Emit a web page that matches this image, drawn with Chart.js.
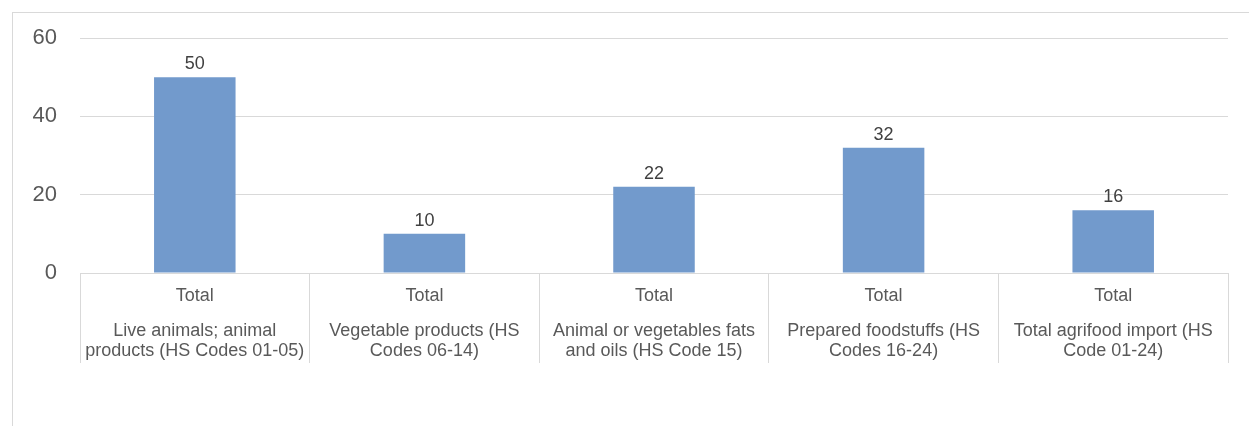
<!DOCTYPE html>
<html lang="en">
<head>
  <meta charset="UTF-8">
  <title>Agrifood import by HS section</title>
  <script src="https://cdn.jsdelivr.net/npm/chart.js"></script>
  <style>
    html, body { margin: 0; padding: 0; background: #fff; overflow: hidden; }
    #frame {
      position: absolute; left: 12px; top: 12px; width: 1300px; height: 500px;
      border-left: 1px solid #d9d9d9; border-top: 1px solid #d9d9d9;
    }
    #chart { position: absolute; left: 0; top: 0; }
  </style>
</head>
<body>
<div id="frame"></div>
<canvas id="chart" width="1249" height="426"></canvas>

<script>
  // categories (two label rows under each bar)
  const subLabels = ['Total', 'Total', 'Total', 'Total', 'Total'];
  const groupLabels = [
    ['Live animals; animal', 'products (HS Codes 01-05)'],
    ['Vegetable products (HS', 'Codes 06-14)'],
    ['Animal or vegetables fats', 'and oils (HS Code 15)'],
    ['Prepared foodstuffs (HS', 'Codes 16-24)'],
    ['Total agrifood import (HS', 'Code 01-24)']
  ];
  const values = [50, 10, 22, 32, 16];
  const yTicks = [0, 20, 40, 60];

  const FONT = '"Liberation Sans", Arial, sans-serif';
  const GRID = '#d9d9d9';
  const TEXT = '#595959';

  // value above each bar
  const valueLabels = {
    id: 'valueLabels',
    afterDatasetsDraw(chart) {
      const ctx = chart.ctx;
      const meta = chart.getDatasetMeta(0);
      ctx.save();
      ctx.font = '18px ' + FONT;
      ctx.fillStyle = '#404040';
      ctx.textAlign = 'center';
      ctx.textBaseline = 'alphabetic';
      meta.data.forEach((bar, i) => {
        ctx.fillText(String(values[i]), bar.x, bar.y - 8);
      });
      ctx.restore();
    }
  };

  // two-level category labels below the axis
  const categoryLabels = {
    id: 'categoryLabels',
    afterDraw(chart) {
      const ctx = chart.ctx;
      const x = chart.scales.x;
      ctx.save();
      ctx.font = '18px ' + FONT;
      ctx.fillStyle = TEXT;
      ctx.textAlign = 'center';
      ctx.textBaseline = 'alphabetic';
      subLabels.forEach((lab, i) => {
        const px = x.getPixelForValue(i);
        ctx.fillText(lab, px, x.top + 28);
        groupLabels[i].forEach((line, j) => {
          ctx.fillText(line, px, x.top + 63 + j * 20);
        });
      });
      ctx.restore();
    }
  };

  new Chart(document.getElementById('chart'), {
    type: 'bar',
    data: {
      labels: groupLabels.map(g => g.join(' ')),
      datasets: [{
        data: values,
        backgroundColor: '#729acc',
        categoryPercentage: 1,
        barPercentage: 0.355
      }]
    },
    options: {
      responsive: false,
      animation: false,
      layout: { padding: { left: 0, top: 38, right: 21, bottom: 63 } },
      plugins: { legend: { display: false }, tooltip: { enabled: false } },
      scales: {
        x: {
          offset: true,
          grid: {
            offset: true,
            drawOnChartArea: false,
            drawTicks: true,
            tickLength: 90,
            color: GRID
          },
          border: { display: true, color: GRID },
          ticks: { display: false },
          afterFit(scale) { scale.height = 90; }
        },
        y: {
          min: 0,
          max: 60,
          afterBuildTicks(scale) { scale.ticks = yTicks.map(v => ({ value: v })); },
          grid: { color: GRID, drawTicks: false },
          border: { display: false },
          ticks: {
            padding: 23,
            color: TEXT,
            font: { family: FONT, size: 22 }
          },
          afterFit(scale) { scale.width = 80; }
        }
      }
    },
    plugins: [valueLabels, categoryLabels]
  });
</script>
</body>
</html>
